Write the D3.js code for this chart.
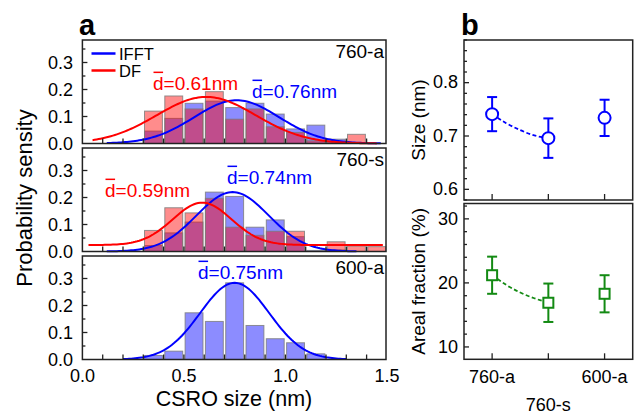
<!DOCTYPE html>
<html><head><meta charset="utf-8">
<script src="https://cdn.jsdelivr.net/npm/d3@7"></script>
<style>
body{margin:0;background:#fff}
svg{display:block}
text{font-family:"Liberation Sans",Arial,Helvetica,sans-serif}
</style>
</head><body>
<svg id="c" width="635" height="415"></svg>
<script>
// ---------- data: panel a (histograms) ----------
const binStarts = [0.3,0.4,0.5,0.6,0.7,0.8,0.9,1.0,1.1,1.2,1.3,1.4];
const binWidth = 0.1;
const ifft760a = [0.046,0.093,0.149,0.157,0.133,0.149,0.109,0.054,0.068,0.016,0.000,0.000];
const df760a   = [0.120,0.176,0.128,0.192,0.090,0.128,0.062,0.041,0.010,0.008,0.034,0.000];
const ifft760s = [0.022,0.069,0.109,0.220,0.204,0.090,0.117,0.055,0.004,0.006,0.000,0.000];
const df760s   = [0.078,0.162,0.143,0.197,0.090,0.060,0.075,0.075,0.000,0.036,0.020,0.018];
const ifft600a = [0.015,0.031,0.173,0.141,0.284,0.126,0.077,0.062,0.021,0.000,0.000,0.000];
const sampleLabels = ["760-a","760-s","600-a"];
// Gaussian fit parameters
const fitIFFTMean  = [0.76,0.74,0.75];
const fitIFFTSigma = [0.21,0.178,0.17];
const fitIFFTPeak  = [0.16,0.22,0.284];
const fitIFFTRange = [[0.12,1.47],[0.12,1.35],[0.2,1.3]];
const fitDFMean  = [0.61,0.59];
const fitDFSigma = [0.244,0.145];
const fitDFPeak  = [0.1725,0.157];
const fitDFBase  = [0.0,0.024];
const fitDFRange = [[0.05,1.45],[0.03,1.48]];
const meanTextIFFT = ["=0.76nm","=0.74nm","=0.75nm"];
const meanTextDF   = ["=0.61nm","=0.59nm"];
const xTicksA = [0,0.5,1.0,1.5];
const yTicksA = [0,0.1,0.2,0.3];

// ---------- data: panel b ----------
const conditions = ["760-a","760-s","600-a"];
const sizeMean = [0.741,0.696,0.734];
const sizeErr  = [0.032,0.037,0.034];
const fracMean = [21.2,16.9,18.3];
const fracErr  = [2.9,3.0,2.9];
const trendX    = [1,1.25,1.5,1.75,2];
const sizeTrend = [0.741,0.724,0.711,0.701,0.696];
const fracTrend = [21.2,19.7,18.5,17.6,16.9];
const sizeTicks = [0.6,0.7,0.8];
const fracTicks = [10,20,30];

// ---------- drawing ----------
const svg = d3.select("#c");
const BLUE = "#0000ff", RED = "#ff0000", GREEN = "#138a13";
const xA = d3.scaleLinear().domain([0,1.5]).range([82.4,386.9]);
const aLeft = 82.4, aRight = 386;
const panels = [
  {top:40, bottom:143.5},
  {top:148, bottom:251.5},
  {top:256, bottom:359.5}
];
const gauss = (m,s,p,b) => x => b + p*Math.exp(-(x-m)*(x-m)/(2*s*s));

panels.forEach((P,i)=>{
  const y = d3.scaleLinear().domain([0,0.38]).range([P.bottom,P.bottom-0.38*270]);
  const g = svg.append("g");
  const series = [];
  if(i===0){series.push([ifft760a,BLUE],[df760a,RED]);}
  if(i===1){series.push([ifft760s,BLUE],[df760s,RED]);}
  if(i===2){series.push([ifft600a,BLUE]);}
  series.forEach(([vals,col])=>{
    g.selectAll(null).data(binStarts.map((b,k)=>({b,v:vals[k]})).filter(d=>d.v>0))
      .enter().append("rect")
      .attr("x",d=>xA(d.b)+1.2)
      .attr("width",d=>xA(d.b+binWidth)-xA(d.b)-2.4)
      .attr("y",d=>y(d.v))
      .attr("height",d=>y(0)-y(d.v))
      .attr("fill",col).attr("fill-opacity",0.45)
      .attr("stroke","#7a7a7a").attr("stroke-opacity",0.8).attr("stroke-width",1);
  });
  // fit curves
  const line = d3.line().x(d=>xA(d[0])).y(d=>y(d[1]));
  const mkPts = (f,r)=> d3.range(r[0],r[1]+0.0001,0.01).map(x=>[x,f(x)]);
  const fI = gauss(fitIFFTMean[i],fitIFFTSigma[i],fitIFFTPeak[i],0);
  g.append("path").attr("d",line(mkPts(fI,fitIFFTRange[i]))).attr("fill","none").attr("stroke",BLUE).attr("stroke-width",2);
  if(i<2){
    const fD = gauss(fitDFMean[i],fitDFSigma[i],fitDFPeak[i],fitDFBase[i]);
    g.append("path").attr("d",line(mkPts(fD,fitDFRange[i]))).attr("fill","none").attr("stroke",RED).attr("stroke-width",2);
  }
  // frame
  g.append("rect").attr("x",aLeft).attr("y",P.top).attr("width",aRight-aLeft).attr("height",P.bottom-P.top)
    .attr("fill","none").attr("stroke","#222").attr("stroke-width",1.5);
  // x ticks (inward)
  g.selectAll(null).data(d3.range(1,15).map(k=>k/10)).enter().append("line")
    .attr("x1",d=>xA(d)).attr("x2",d=>xA(d)).attr("y1",P.bottom).attr("y2",P.bottom-5)
    .attr("stroke","#222").attr("stroke-width",1.3);
  // y ticks
  const yt = d3.range(0,0.36,0.05);
  g.selectAll(null).data(yt.slice(1)).enter().append("line")
    .attr("x1",aLeft).attr("x2",(d,k)=>aLeft+((k%2)?5:3)).attr("y1",d=>y(d)).attr("y2",d=>y(d))
    .attr("stroke","#222").attr("stroke-width",1.3);
  g.selectAll(null).data(yTicksA).enter().append("text")
    .attr("x",73).attr("y",d=>y(d)+1.5).attr("text-anchor","end").attr("dominant-baseline","middle")
    .attr("font-size",18).text(d=>d.toFixed(1));
  // sample label
  g.append("text").attr("x",384).attr("y",P.top+18).attr("text-anchor","end").attr("font-size",19).text(sampleLabels[i]);
});

// annotations with overlined d
function meanText(x,yb,col,rest){
  const t = svg.append("text").attr("x",x).attr("y",yb).attr("fill",col).attr("font-size",19);
  t.append("tspan").text("d");
  t.append("tspan").text(rest);
  const w = t.node().getSubStringLength(0,1);
  svg.append("line").attr("x1",x+0.5).attr("x2",x+w-0.5).attr("y1",yb-19*0.93).attr("y2",yb-19*0.93)
    .attr("stroke",col).attr("stroke-width",1.5);
}
meanText(153,90,RED,meanTextDF[0]);
meanText(252,98,BLUE,meanTextIFFT[0]);
meanText(105,197,RED,meanTextDF[1]);
meanText(227,184,BLUE,meanTextIFFT[1]);
meanText(198,279,BLUE,meanTextIFFT[2]);

// legend
[["IFFT",BLUE,53.5],["DF",RED,70.5]].forEach(([t,c,yy])=>{
  svg.append("line").attr("x1",91.5).attr("x2",115.5).attr("y1",yy).attr("y2",yy).attr("stroke",c).attr("stroke-width",2.5);
  svg.append("text").attr("x",119).attr("y",yy+6).attr("font-size",16.5).text(t);
});

// x tick labels & titles for a
svg.selectAll(null).data(xTicksA).enter().append("text")
  .attr("x",d=>xA(d)).attr("y",382).attr("text-anchor","middle").attr("font-size",18).text(d=>d.toFixed(1));
svg.append("text").attr("x",234).attr("y",406).attr("text-anchor","middle").attr("font-size",21.5).text("CSRO size (nm)");
svg.append("text").attr("transform","translate(32,198) rotate(-90)").attr("text-anchor","middle").attr("font-size",22).text("Probability sensity");
svg.append("text").attr("x",79).attr("y",35).attr("font-size",29).attr("font-weight","bold").text("a");
svg.append("text").attr("x",461).attr("y",35).attr("font-size",29).attr("font-weight","bold").text("b");

// ---------- panel b ----------
const bLeft = 464, bRight = 632.7;
const xB = d3.scaleLinear().domain([0.5,3.5]).range([bLeft,bRight]);
const bPanels = [
  {top:40,bottom:200,dom:[0.58,0.88],mean:sizeMean,err:sizeErr,trend:sizeTrend,col:BLUE,shape:"circle",
   ticks:sizeTicks,minor:d3.range(0.58,0.881,0.02),fmt:d=>d.toFixed(1),title:"Size (nm)"},
  {top:203.5,bottom:359.3,dom:[8.07,32.4],mean:fracMean,err:fracErr,trend:fracTrend,col:GREEN,shape:"square",
   ticks:fracTicks,minor:d3.range(10,32.1,2),fmt:d=>d,title:"Areal fraction (%)"}
];
bPanels.forEach(P=>{
  const y = d3.scaleLinear().domain(P.dom).range([P.bottom,P.top]);
  const g = svg.append("g");
  g.append("rect").attr("x",bLeft).attr("y",P.top).attr("width",bRight-bLeft).attr("height",P.bottom-P.top)
    .attr("fill","none").attr("stroke","#222").attr("stroke-width",1.5);
  g.selectAll(null).data(P.minor).enter().append("line")
    .attr("x1",bLeft).attr("x2",d=>bLeft+(P.ticks.some(t=>Math.abs(t-d)<1e-6)?5:3))
    .attr("y1",d=>y(d)).attr("y2",d=>y(d)).attr("stroke","#222").attr("stroke-width",1.3);
  g.selectAll(null).data(P.ticks).enter().append("text")
    .attr("x",458).attr("y",d=>y(d)+1).attr("text-anchor","end").attr("dominant-baseline","middle")
    .attr("font-size",18).text(P.fmt);
  g.selectAll(null).data([1,2,3]).enter().append("line")
    .attr("x1",d=>xB(d)).attr("x2",d=>xB(d)).attr("y1",P.bottom).attr("y2",P.bottom-6)
    .attr("stroke","#222").attr("stroke-width",1.3);
  // dashed trend
  g.append("path").attr("d",d3.line().curve(d3.curveNatural).x(d=>xB(d[0])).y(d=>y(d[1]))(trendX.map((x,k)=>[x,P.trend[k]])))
    .attr("fill","none").attr("stroke",P.col).attr("stroke-width",1.8).attr("stroke-dasharray","4,2.5");
  const pts = conditions.map((c,k)=>({x:k+1,m:P.mean[k],e:P.err[k]}));
  g.selectAll(null).data(pts).enter().append("line")
    .attr("x1",d=>xB(d.x)).attr("x2",d=>xB(d.x)).attr("y1",d=>y(d.m-d.e)).attr("y2",d=>y(d.m+d.e))
    .attr("stroke",P.col).attr("stroke-width",2);
  ["-","+"].forEach(s=>{
    g.selectAll(null).data(pts).enter().append("line")
      .attr("x1",d=>xB(d.x)-5).attr("x2",d=>xB(d.x)+5)
      .attr("y1",d=>y(s==="+"?d.m+d.e:d.m-d.e)).attr("y2",d=>y(s==="+"?d.m+d.e:d.m-d.e))
      .attr("stroke",P.col).attr("stroke-width",2);
  });
  if(P.shape==="circle"){
    g.selectAll(null).data(pts).enter().append("circle")
      .attr("cx",d=>xB(d.x)).attr("cy",d=>y(d.m)).attr("r",6)
      .attr("fill","#fff").attr("stroke",P.col).attr("stroke-width",2);
  } else {
    g.selectAll(null).data(pts).enter().append("rect")
      .attr("x",d=>xB(d.x)-5).attr("y",d=>y(d.m)-5).attr("width",10).attr("height",10)
      .attr("fill","#fff").attr("stroke",P.col).attr("stroke-width",2);
  }
  const cy = (P.top+P.bottom)/2;
  g.append("text").attr("transform",`translate(425,${cy}) rotate(-90)`).attr("text-anchor","middle")
    .attr("font-size",19).text(P.title);
});
// panel b x labels (staggered)
svg.selectAll(null).data(conditions).enter().append("text")
  .attr("x",(d,k)=>xB(k+1)).attr("y",(d,k)=>k===1?411:383).attr("text-anchor","middle")
  .attr("font-size",18).text(d=>d);
</script>
</body></html>
